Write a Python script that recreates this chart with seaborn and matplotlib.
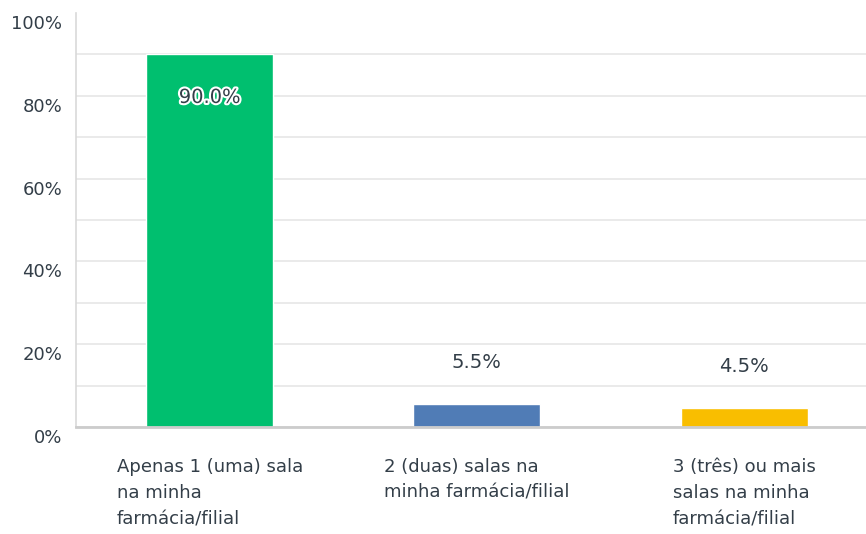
import matplotlib
matplotlib.use('Agg')
import matplotlib.pyplot as plt
import matplotlib.patheffects as pe
from matplotlib.transforms import ScaledTranslation
import seaborn as sns
import pandas as pd

categories = ['Apenas 1 (uma) sala\nna minha\nfarmácia/filial',
              '2 (duas) salas na\nminha farmácia/filial',
              '3 (três) ou mais\nsalas na minha\nfarmácia/filial']
values = [90.0, 5.5, 4.5]
colors = ['#00BF6F', '#507CB6', '#F9BE00']
y_ticks = [0, 20, 40, 60, 80, 100]

TEXT = '#333e48'

sns.set_theme(style="white")
plt.rcParams['font.family'] = ['DejaVu Sans']

df = pd.DataFrame({'category': categories, 'value': values})

fig = plt.figure(figsize=(8.66, 5.34), dpi=100)
ax = fig.add_axes([0.0878, 0.2004, 0.9122, 0.7753])

sns.barplot(data=df, x='category', y='value', hue='category',
            palette=colors, legend=False, width=0.475,
            saturation=1, ax=ax)

ax.set_ylim(0, 100)
ax.set_xlim(-0.5, 2.456)
ax.set_yticks(range(0, 101, 10))
ax.set_yticklabels([f'{t}%' if t in y_ticks else '' for t in range(0, 101, 10)])
ax.yaxis.grid(True, color='#e6e6e6', linewidth=1.2)
ax.get_ygridlines()[-1].set_visible(False)
ax.set_axisbelow(True)
ax.set_xlabel('')
ax.set_ylabel('')

for side in ['top', 'right']:
    ax.spines[side].set_visible(False)
ax.spines['left'].set_color('#d9d9d9')
ax.spines['left'].set_linewidth(1.2)
ax.spines['bottom'].set_color('#cccccc')
ax.spines['bottom'].set_linewidth(2)

ax.tick_params(axis='y', length=0, pad=10, labelsize=13, labelcolor=TEXT)
ax.tick_params(axis='x', length=0, pad=22, labelsize=13, labelcolor=TEXT)

shift = ScaledTranslation(0, -0.09, fig.dpi_scale_trans)
for lab in ax.get_yticklabels():
    lab.set_transform(lab.get_transform() + shift)
for lab in ax.get_xticklabels():
    lab.set_multialignment('left')
    lab.set_linespacing(1.6)

for i, v in enumerate(values):
    if v > 50:
        ax.annotate(f'{v:.1f}%', (i, v), xytext=(0, -31),
                    textcoords='offset points', ha='center', va='center',
                    fontsize=14, color=TEXT,
                    path_effects=[pe.withStroke(linewidth=3, foreground='white')])
    else:
        ax.annotate(f'{v:.1f}%', (i, v), xytext=(0, 30),
                    textcoords='offset points', ha='center', va='center',
                    fontsize=14, color=TEXT)

fig.savefig('out.png', dpi=100, facecolor='white')
plt.close()
